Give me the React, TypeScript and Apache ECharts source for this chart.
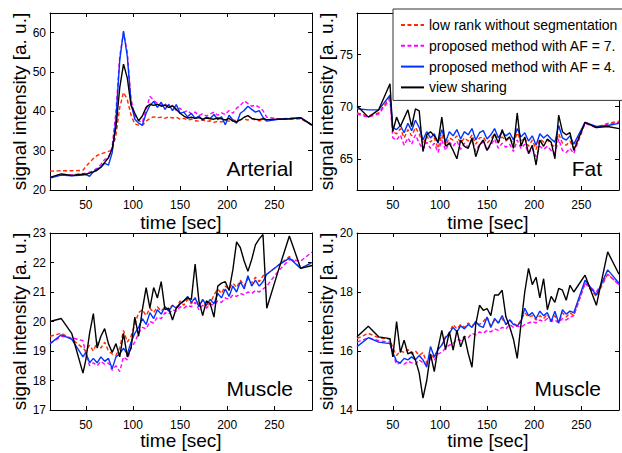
import React, { useEffect, useRef } from "react";
import * as echarts from "echarts";

const time = [12, 24, 35, 47, 50, 54, 58, 62, 66, 70,
  74, 78, 82, 86, 90, 94, 98, 102, 106, 110,
  114, 118, 122, 126, 130, 134, 138, 142, 146, 150,
  154, 158, 162, 166, 170, 174, 178, 182, 186, 190,
  194, 198, 202, 206, 210, 214, 218, 222, 226, 230,
  234, 238, 242, 254, 266, 278, 290];

const seriesNames = [
  "low rank without segmentation",
  "proposed method with AF = 7.3",
  "proposed method with AF = 4.4",
  "view sharing",
];

const xTicks = [50, 100, 150, 200, 250];
const arterialTicks = [20, 30, 40, 50, 60];
const fatTicks = [65, 70, 75];
const muscle1Ticks = [17, 18, 19, 20, 21, 22, 23];
const muscle2Ticks = [14, 16, 18, 20];

// Arterial
const arterialLowRank = [24.8, 24.9, 24.9, 25.0, 26.0, 27.0, 28.0, 28.8, 29.2, 29.5,
  29.8, 30.2, 34.0, 41.0, 44.8, 43.0, 39.0, 36.8, 36.5, 36.4,
  37.5, 38.2, 38.6, 38.4, 38.5, 38.2, 38.6, 38.3, 38.5, 38.0,
  38.2, 37.8, 38.0, 37.6, 37.5, 37.8, 37.4, 37.6, 37.2, 37.5,
  37.3, 37.6, 37.5, 37.8, 37.6, 37.9, 38.0, 37.8, 38.1, 37.8,
  37.6, 37.9, 37.8, 38.0, 38.0, 38.1, 36.5];
const arterialAF73 = [23.2, 24.0, 23.8, 24.2, 24.3, 24.5, 25.0, 25.5, 26.5, 27.8,
  28.2, 31.0, 40.0, 54.0, 60.0, 55.0, 43.0, 39.0, 37.6, 37.2,
  40.5, 43.8, 42.8, 42.0, 41.5, 42.0, 40.8, 41.5, 40.2, 40.8,
  39.8, 40.2, 39.3, 39.8, 38.9, 39.4, 38.8, 39.3, 39.8, 39.0,
  39.6, 39.2, 40.2, 39.5, 40.8, 41.5, 42.6, 42.0, 41.3, 41.6,
  41.0, 40.2, 38.5, 38.1, 38.2, 38.3, 36.6];
const arterialAF44 = [23.0, 23.8, 23.6, 23.8, 23.9, 23.5, 24.6, 25.3, 25.8, 26.8,
  26.3, 29.5, 38.0, 53.0, 60.4, 54.0, 42.0, 38.0, 37.0, 36.5,
  39.5, 41.5, 42.5, 41.0, 42.3, 40.5, 41.8, 40.2, 41.7, 39.5,
  39.8, 38.6, 39.5, 38.2, 38.8, 37.8, 38.5, 38.2, 39.2, 37.9,
  38.6, 36.6, 39.0, 37.8, 37.0, 39.5, 40.2, 41.3, 40.5, 39.8,
  40.2, 38.5, 37.5, 38.0, 38.1, 38.3, 36.5];
const arterialViewSharing = [23.2, 24.1, 23.7, 24.0, 24.0, 24.3, 24.6, 25.0, 25.8, 27.0,
  28.2, 30.5, 36.0, 46.0, 52.0, 48.5, 41.5, 39.5, 37.6, 38.8,
  41.0, 41.8, 41.5, 41.8, 41.3, 41.6, 41.0, 41.4, 40.5, 39.5,
  38.8, 38.3, 38.5, 38.2, 38.4, 38.0, 38.3, 38.1, 38.0, 38.3,
  38.1, 37.8, 38.2, 37.5, 37.3, 37.8, 38.5, 38.9, 38.2, 38.0,
  37.9, 38.1, 37.9, 38.0, 38.1, 38.4, 36.5];

// Fat
const fatLowRank = [69.4, 69.1, 69.4, 70.9, 67.6, 67.4, 67.9, 67.0, 67.8, 67.2,
  68.0, 67.4, 66.4, 67.2, 66.6, 67.0, 66.0, 67.3, 66.3, 67.0,
  66.8, 67.2, 66.5, 67.0, 66.7, 67.3, 66.4, 67.0, 67.1, 66.5,
  66.9, 67.4, 66.6, 67.1, 66.7, 67.0, 66.4, 67.5, 66.7, 67.0,
  66.2, 66.8, 65.9, 66.9, 66.6, 66.8, 66.4, 66.1, 67.4, 66.5,
  66.3, 66.7, 66.0, 68.5, 68.0, 68.4, 68.6];
const fatAF73 = [69.3, 69.0, 69.3, 70.7, 67.0, 66.8, 67.3, 66.3, 67.0, 66.4,
  67.3, 66.5, 65.9, 66.6, 66.0, 66.5, 65.6, 66.8, 65.8, 66.6,
  66.2, 66.7, 65.9, 66.5, 66.1, 66.8, 65.7, 66.4, 66.6, 65.8,
  66.3, 66.9, 66.0, 66.5, 66.1, 66.4, 65.7, 66.8, 66.0, 66.4,
  65.5, 66.0, 65.2, 66.2, 65.9, 66.2, 65.8, 65.5, 66.9, 65.8,
  65.6, 66.0, 65.5, 68.4, 68.0, 68.3, 68.5];
const fatAF44 = [69.8, 69.7, 69.7, 71.1, 68.0, 67.8, 68.2, 67.5, 68.4, 67.7,
  68.7, 68.0, 66.8, 67.6, 67.0, 67.4, 66.5, 67.8, 66.6, 67.6,
  67.2, 67.8, 66.9, 67.6, 67.3, 67.9, 66.8, 67.5, 67.7, 66.9,
  67.3, 67.9, 67.0, 67.6, 67.2, 67.5, 66.8, 67.9, 67.1, 67.5,
  66.7, 67.2, 66.3, 67.4, 67.0, 67.3, 66.9, 66.6, 68.2, 67.0,
  66.8, 67.2, 66.4, 68.5, 68.1, 68.2, 68.4];
const fatViewSharing = [70.1, 69.0, 69.7, 72.2, 67.6, 69.0, 68.1, 68.9, 69.7, 68.1,
  69.8, 69.6, 65.7, 67.3, 67.6, 67.2, 66.6, 69.0, 66.2, 66.5,
  65.8, 65.0, 66.8, 66.2, 66.0, 67.0, 65.2, 66.3, 66.8, 65.8,
  66.5, 67.4, 66.5, 67.8, 66.8, 67.1, 66.0, 69.4, 66.2, 67.1,
  65.5, 66.3, 64.4, 66.8, 66.2, 66.9, 66.6, 65.0, 69.2, 67.6,
  67.3, 67.5, 65.8, 68.5, 68.0, 68.1, 67.9];

// Muscle (bottom left)
const muscle1LowRank = [19.5, 19.6, 19.4, 19.1, 19.0, 19.2, 19.0, 19.3, 19.1, 19.3,
  19.0, 18.9, 18.85, 19.1, 19.7, 19.3, 19.5, 19.9, 20.3, 20.4,
  20.2, 20.45, 20.3, 20.5, 20.35, 20.5, 20.4, 20.55, 20.45, 20.7,
  20.55, 20.75, 20.6, 20.8, 20.55, 20.7, 20.5, 20.6, 20.9, 21.1,
  20.95, 21.2, 21.1, 21.3, 21.15, 21.4, 21.2, 21.45, 21.3, 21.5,
  21.35, 21.55, 21.6, 21.9, 22.2, 21.8, 22.0];
const muscle1AF73 = [19.25, 19.5, 19.45, 19.35, 18.9, 18.5, 18.6, 18.5, 18.65, 18.55,
  18.6, 18.35, 18.5, 18.3, 18.8, 18.7, 19.1, 19.3, 19.6, 19.8,
  19.75, 20.0, 19.95, 20.15, 20.1, 20.3, 20.25, 20.4, 20.35, 20.5,
  20.45, 20.55, 20.5, 20.65, 20.4, 20.55, 20.45, 20.6, 20.55, 20.7,
  20.65, 20.8, 20.75, 20.9, 20.85, 20.95, 20.9, 21.0, 20.95, 21.05,
  21.0, 21.1, 21.2, 21.7, 22.1, 22.05, 22.35];
const muscle1AF44 = [19.25, 19.55, 19.4, 18.8, 18.95, 18.6, 18.75, 18.6, 18.8, 18.65,
  18.75, 18.4, 18.8, 18.9, 19.1, 18.9, 19.3, 19.6, 19.8, 20.1,
  19.9, 20.3, 20.1, 20.4, 20.25, 20.5, 20.35, 20.55, 20.45, 20.6,
  20.7, 20.85, 20.65, 20.8, 20.5, 20.75, 20.55, 20.75, 20.6, 20.95,
  20.8, 21.1, 20.85, 21.2, 21.0, 21.35, 21.1, 21.55, 21.2, 21.4,
  21.2, 21.35, 21.6, 21.9, 22.15, 21.8, 22.0];
const muscle1ViewSharing = [20.0, 20.1, 19.6, 18.25, 18.7, 19.6, 20.27, 19.1, 19.5, 19.76,
  19.25, 18.95, 19.25, 18.8, 19.6, 18.8, 19.1, 20.15, 19.5, 20.4,
  21.15, 20.45, 21.15, 20.8, 21.35, 20.4, 20.45, 20.05, 20.45, 20.6,
  20.7, 20.8, 20.75, 21.95, 20.7, 20.2, 20.7, 20.6, 20.15, 21.2,
  21.3, 21.35, 21.05, 21.75, 22.7, 22.5, 22.05, 21.7, 22.1, 22.6,
  22.8, 22.95, 20.45, 21.7, 22.9, 21.8, 21.9];

// Muscle (bottom right)
const muscle2LowRank = [16.42, 16.6, 16.45, 16.4, 16.1, 15.85, 16.0, 15.95, 16.05, 15.9,
  16.0, 15.85, 15.95, 15.6, 15.9, 15.75, 16.1, 16.2, 16.5, 16.6,
  16.9, 16.75, 16.9, 16.8, 16.95, 16.85, 16.95, 16.9, 17.0, 17.15,
  16.85, 17.05, 16.95, 17.1, 16.9, 17.05, 16.95, 16.85, 17.05, 17.3,
  17.15, 17.2, 17.05, 17.2, 17.1, 17.25, 17.0, 17.2, 16.95, 17.3,
  17.15, 17.3, 17.2, 18.3, 17.85, 18.6, 18.25];
const muscle2AF73 = [16.3, 16.45, 16.35, 16.3, 15.9, 15.55, 15.6, 15.55, 15.65, 15.6,
  15.55, 15.7, 15.6, 15.55, 15.75, 15.7, 15.9, 15.95, 16.1, 16.2,
  16.25, 16.4, 16.35, 16.5, 16.45, 16.6, 16.55, 16.65, 16.6, 16.7,
  16.65, 16.75, 16.7, 16.8, 16.75, 16.9, 16.8, 16.85, 16.8, 16.9,
  16.95, 17.0, 16.95, 17.05, 17.0, 17.1, 17.0, 17.05, 16.95, 17.1,
  17.05, 17.15, 17.2, 18.3, 18.0, 18.6, 18.25];
const muscle2AF44 = [16.15, 16.45, 16.3, 16.25, 15.95, 15.65, 15.6, 15.75, 15.7, 15.8,
  15.7, 15.85, 15.7, 15.45, 16.15, 15.8, 16.05, 16.2, 16.45, 16.6,
  16.8, 16.65, 16.85, 16.75, 16.9, 16.8, 17.0, 16.85, 16.8, 17.15,
  16.8, 17.1, 16.95, 17.2, 16.9, 17.05, 16.9, 16.85, 17.0, 17.45,
  17.2, 17.3, 17.1, 17.35, 17.2, 17.3, 17.0, 17.35, 16.95, 17.4,
  17.25, 17.35, 17.3, 18.4, 17.9, 18.75, 18.3];
const muscle2ViewSharing = [16.48, 16.84, 16.48, 16.42, 15.8, 17.0, 15.95, 16.37, 15.9, 15.97,
  15.7, 15.25, 14.4, 15.0, 15.9, 15.3, 16.1, 16.7, 16.05, 16.65,
  16.03, 16.7, 16.14, 16.5, 15.92, 15.45, 16.9, 17.55, 17.38, 17.44,
  17.2, 17.9, 17.9, 18.06, 17.16, 16.82, 16.4, 15.75, 16.9, 18.0,
  18.8, 18.25, 18.5, 17.8, 18.45, 17.4, 17.85, 17.65, 18.12, 18.06,
  17.72, 18.23, 18.0, 18.57, 17.55, 19.36, 18.6];

const FONT = "'Liberation Sans', Arial, Helvetica, sans-serif";

const panels = [
  { label: "Arterial", yMin: 20, yMax: 65, yTicks: arterialTicks,
    values: [arterialLowRank, arterialAF73, arterialAF44, arterialViewSharing] },
  { label: "Fat", yMin: 62, yMax: 79, yTicks: fatTicks,
    values: [fatLowRank, fatAF73, fatAF44, fatViewSharing] },
  { label: "Muscle", yMin: 17, yMax: 23, yTicks: muscle1Ticks,
    values: [muscle1LowRank, muscle1AF73, muscle1AF44, muscle1ViewSharing] },
  { label: "Muscle", yMin: 14, yMax: 20, yTicks: muscle2Ticks,
    values: [muscle2LowRank, muscle2AF73, muscle2AF44, muscle2ViewSharing] },
];

const grids = [
  { left: 50, top: 13, width: 262, height: 177 },
  { left: 357, top: 13, width: 262, height: 177 },
  { left: 50, top: 233, width: 262, height: 177 },
  { left: 357, top: 233, width: 262, height: 177 },
];

const labelPos = [
  { x: 293, y: 168 },
  { x: 602, y: 168 },
  { x: 293, y: 388 },
  { x: 601, y: 388 },
];

const lineStyles = [
  { color: "#ff2a00", type: [4, 2.5] },
  { color: "#ff00ff", type: [4, 2.5] },
  { color: "#0033ff", type: "solid" },
  { color: "#000000", type: "solid" },
];

export default function App() {
  const ref = useRef<HTMLDivElement>(null);
  useEffect(() => {
    if (!ref.current) return;
    const chart = echarts.init(ref.current, undefined, { renderer: "svg" });
    const axisLine = { show: true, onZero: false, lineStyle: { color: "#000", width: 1 } };
    const xAxis: any[] = [];
    const yAxis: any[] = [];
    const series: any[] = [];
    panels.forEach((p, g) => {
      xAxis.push({
        type: "value", gridIndex: g, min: 12, max: 290, position: "bottom",
        axisLine,
        axisTick: { show: true, inside: true, length: 4, customValues: xTicks, lineStyle: { color: "#000" } },
        axisLabel: { show: true, customValues: xTicks, margin: 8.5, color: "#000", fontSize: 12, fontFamily: FONT },
        splitLine: { show: false },
        name: "time [sec]", nameLocation: "middle", nameGap: g < 2 ? 32 : 28,
        nameTextStyle: { fontSize: 19, color: "#000", fontFamily: FONT, verticalAlign: "middle" },
      });
      xAxis.push({
        type: "value", gridIndex: g, min: 12, max: 290, position: "top",
        axisLine,
        axisTick: { show: true, inside: true, length: 4, customValues: xTicks, lineStyle: { color: "#000" } },
        axisLabel: { show: false },
        splitLine: { show: false },
      });
      yAxis.push({
        type: "value", gridIndex: g, min: p.yMin, max: p.yMax, position: "left",
        axisLine,
        axisTick: { show: true, inside: true, length: 4, customValues: p.yTicks, lineStyle: { color: "#000" } },
        axisLabel: { show: true, customValues: p.yTicks, margin: 4, color: "#000", fontSize: 12, fontFamily: FONT },
        splitLine: { show: false },
        name: "signal intensity [a. u.]", nameLocation: "middle", nameGap: 30,
        nameTextStyle: { fontSize: 19, color: "#000", fontFamily: FONT, verticalAlign: "middle" },
      });
      yAxis.push({
        type: "value", gridIndex: g, min: p.yMin, max: p.yMax, position: "right",
        axisLine,
        axisTick: { show: true, inside: true, length: 4, customValues: p.yTicks, lineStyle: { color: "#000" } },
        axisLabel: { show: false },
        splitLine: { show: false },
      });
      p.values.forEach((vals, k) => {
        series.push({
          type: "line", name: seriesNames[k],
          xAxisIndex: 2 * g, yAxisIndex: 2 * g,
          data: time.map((t, i) => [t, vals[i]]),
          symbol: "none", showSymbol: false, silent: true, clip: true,
          lineStyle: { color: lineStyles[k].color, width: 1.4, type: lineStyles[k].type },
          itemStyle: { color: lineStyles[k].color },
          z: 2 + k,
        });
      });
    });
    chart.setOption({
      animation: false,
      backgroundColor: "#fff",
      grid: grids.map((gr) => ({ ...gr, containLabel: false })),
      xAxis, yAxis, series,
      legend: {
        orient: "vertical", left: 393, top: 9, data: seriesNames,
        itemWidth: 23, itemHeight: 14, itemGap: 6.8,
        padding: [9, 8, 6, 7],
        borderColor: "#333", borderWidth: 1, backgroundColor: "#fff",
        itemStyle: { opacity: 0 },
        textStyle: { fontSize: 14, color: "#000", fontFamily: FONT, width: 191, overflow: "truncate", ellipsis: "" },
        selectedMode: false, z: 10,
      },
      graphic: panels.map((p, g) => ({
        type: "text", x: labelPos[g].x, y: labelPos[g].y, z: 5,
        style: { text: p.label, fontSize: 21, fontFamily: FONT, fill: "#000", align: "right", verticalAlign: "middle" },
      })),
    });
    return () => chart.dispose();
  }, []);
  return <div ref={ref} style={{ position: "fixed", left: 0, top: 0, width: 622, height: 453 }} />;
}
